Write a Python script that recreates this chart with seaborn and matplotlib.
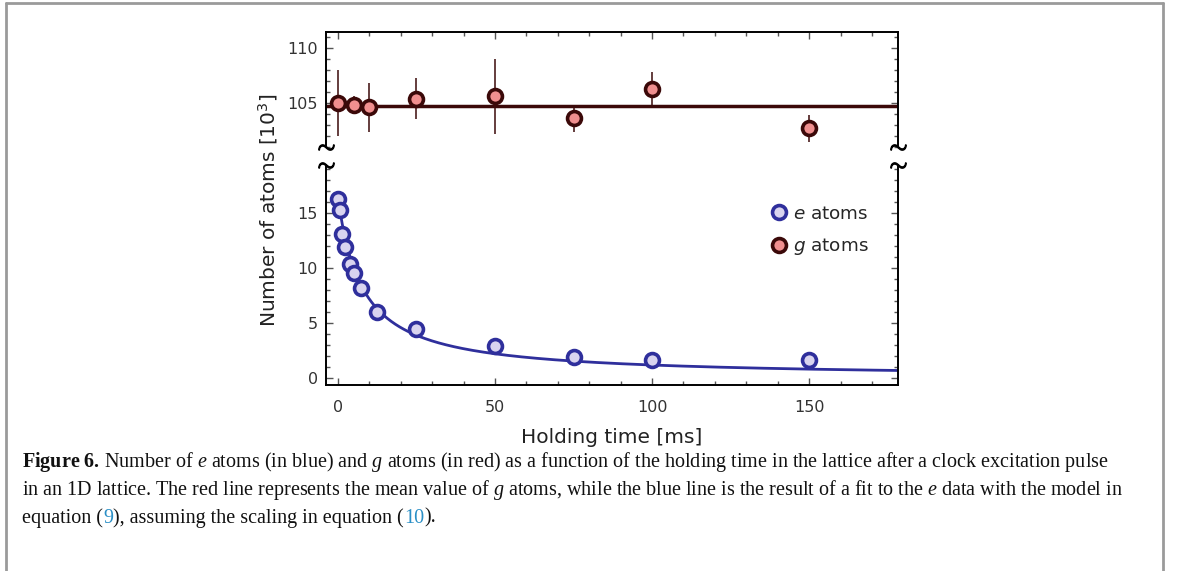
import numpy as np
import pandas as pd
import matplotlib
matplotlib.use("Agg")
import matplotlib.pyplot as plt
from matplotlib.lines import Line2D
from matplotlib.font_manager import FontProperties
from matplotlib.ticker import MultipleLocator
import seaborn as sns

# e atoms (excited)
e_time = [0, 0.5, 1.2, 2.2, 4, 5, 7.5, 12.5, 25, 50, 75, 100, 150]
e_atoms = [16.3, 15.3, 13.1, 11.9, 10.4, 9.55, 8.2, 6.0, 4.45, 2.9, 1.95, 1.6, 1.6]

# g atoms (ground) with error bars, in units of 10^3
g_time = [0, 5, 10, 25, 50, 75, 100, 150]
g_atoms = [105.0, 104.8, 104.6, 105.4, 105.6, 103.6, 106.3, 102.7]
g_err = [3.0, 0.8, 2.2, 1.9, 3.4, 1.2, 1.5, 1.25]

# fit parameters for the e decay curve N0 / (1 + k t)
fit_n0 = 16.5
fit_k = 0.13

e_face, e_edge = "#d9d4ef", "#2f2f9c"
g_face, g_edge = "#f08f8f", "#3b0909"

sns.set_theme(style="ticks")
plt.rcParams["mathtext.fontset"] = "custom"
plt.rcParams["mathtext.rm"] = "Liberation Serif"
plt.rcParams["mathtext.it"] = "Liberation Serif:italic"
plt.rcParams["mathtext.bf"] = "Liberation Serif:bold"
plt.rcParams["font.family"] = ["DejaVu Sans"]

df_e = pd.DataFrame({"t": e_time, "n": e_atoms})
df_g = pd.DataFrame({"t": g_time, "n": g_atoms, "err": g_err})
t_fit = np.linspace(0, 178, 400)
df_fit = pd.DataFrame({"t": t_fit, "n": fit_n0 / (1 + fit_k * t_fit)})

fig = plt.figure(figsize=(11.79, 5.71), dpi=100)
ax_top = fig.add_axes([0.2765, 0.7426, 0.4852, 0.2014])
ax_bot = fig.add_axes([0.2765, 0.3257, 0.4852, 0.3853])

# top panel: g atoms
ax_top.axhline(np.mean(g_atoms), color=g_edge, lw=2.5, zorder=1)
ax_top.errorbar(df_g["t"], df_g["n"], yerr=df_g["err"], fmt="none",
                ecolor=g_edge, elinewidth=1.1, capsize=0, zorder=2)
sns.scatterplot(data=df_g, x="t", y="n", ax=ax_top, s=100, color=g_face,
                edgecolor=g_edge, linewidth=2.6, zorder=3, legend=False)

# bottom panel: e atoms
sns.lineplot(data=df_fit, x="t", y="n", ax=ax_bot, color=e_edge, lw=2, zorder=1)
sns.scatterplot(data=df_e, x="t", y="n", ax=ax_bot, s=100, color=e_face,
                edgecolor=e_edge, linewidth=2.6, zorder=3, legend=False)

ax_top.set_ylim(101, 111.45)
ax_bot.set_ylim(-0.64, 19.36)
for ax in (ax_top, ax_bot):
    ax.set_xlim(-3.8, 178.3)
    ax.set_xlabel("")
    ax.set_ylabel("")
    ax.xaxis.set_major_locator(MultipleLocator(50))
    ax.xaxis.set_minor_locator(MultipleLocator(10))
    ax.yaxis.set_major_locator(MultipleLocator(5))
    ax.yaxis.set_minor_locator(MultipleLocator(1))
    ax.tick_params(which="both", direction="in", right=True, width=1,
                   color="#555555", labelsize=11.5, labelcolor="#333333")
    ax.tick_params(which="major", length=5)
    ax.tick_params(which="minor", length=3)
    for sp in ax.spines.values():
        sp.set_linewidth(1.4)
        sp.set_color("black")

ax_top.spines["bottom"].set_visible(False)
ax_top.tick_params(axis="x", which="both", bottom=False, top=True, labelbottom=False)
ax_top.tick_params(axis="y", pad=6)
ax_bot.spines["top"].set_visible(False)
ax_bot.tick_params(axis="x", which="both", top=False, pad=11)
ax_bot.tick_params(axis="y", pad=6)
ax_bot.set_xlabel("Holding time [ms]", fontsize=14.5, labelpad=9, color="#222222")

# break marks on the spines
for ax, yb in ((ax_top, 0), (ax_bot, 1)):
    ax.plot([0, 1], [yb, yb], transform=ax.transAxes, ls="", marker=r"$\sim$",
            ms=11, color="black", clip_on=False, zorder=5)

fig.text(0.227, 0.632, "Number of atoms [10$^3$]", rotation=90, ha="center",
         va="center", fontsize=14.5, color="#222222", math_fontfamily="dejavusans")

handles = [
    Line2D([], [], ls="", marker="o", ms=10, mfc=e_face, mec=e_edge, mew=2.6),
    Line2D([], [], ls="", marker="o", ms=10, mfc=g_face, mec=g_edge, mew=2.6),
]
ax_bot.legend(handles, ["$e$ atoms", "$g$ atoms"], loc="upper right",
              bbox_to_anchor=(0.978, 0.895), frameon=False, handlelength=0.8,
              handletextpad=0.4, labelspacing=0.75,
              prop=FontProperties(size=13.2, math_fontfamily="dejavusans"))

# caption
cap_kw = dict(fontsize=14.5, family="Liberation Serif", color="#111111", va="center")
fig.text(0.0187, 1 - 462 / 571, r"$\mathbf{Figure\ 6.}\,$Number of $e$ atoms (in blue) and $g$ atoms (in red) "
         "as a function of the holding time in the lattice after a clock excitation pulse", **cap_kw)
fig.text(0.0187, 1 - 490 / 571, "in an 1D lattice. The red line represents the mean value of $g$ atoms, "
         "while the blue line is the result of a fit to the $e$ data with the model in", **cap_kw)
prev = fig.text(0.0187, 1 - 518 / 571, "equation (", **cap_kw)
pieces = [("9", "#2a8fc6"), ("), assuming the scaling in equation (", "#111111"),
          ("10", "#2a8fc6"), (").", "#111111")]
for txt, col in pieces:
    prev = plt.annotate(txt, xy=(1, 0), xycoords=prev, va="bottom", ha="left",
                        fontsize=cap_kw["fontsize"], family="Liberation Serif", color=col)

# page frame (left, top, right)
for xs, ys in (([0.005, 0.005], [0, 0.9947]), ([0.005, 0.9864], [0.9947, 0.9947]),
               ([0.9864, 0.9864], [0, 0.9947])):
    fig.add_artist(Line2D(xs, ys, transform=fig.transFigure, color="#9a9a9a", lw=2))

fig.savefig("out.png", dpi=100)
